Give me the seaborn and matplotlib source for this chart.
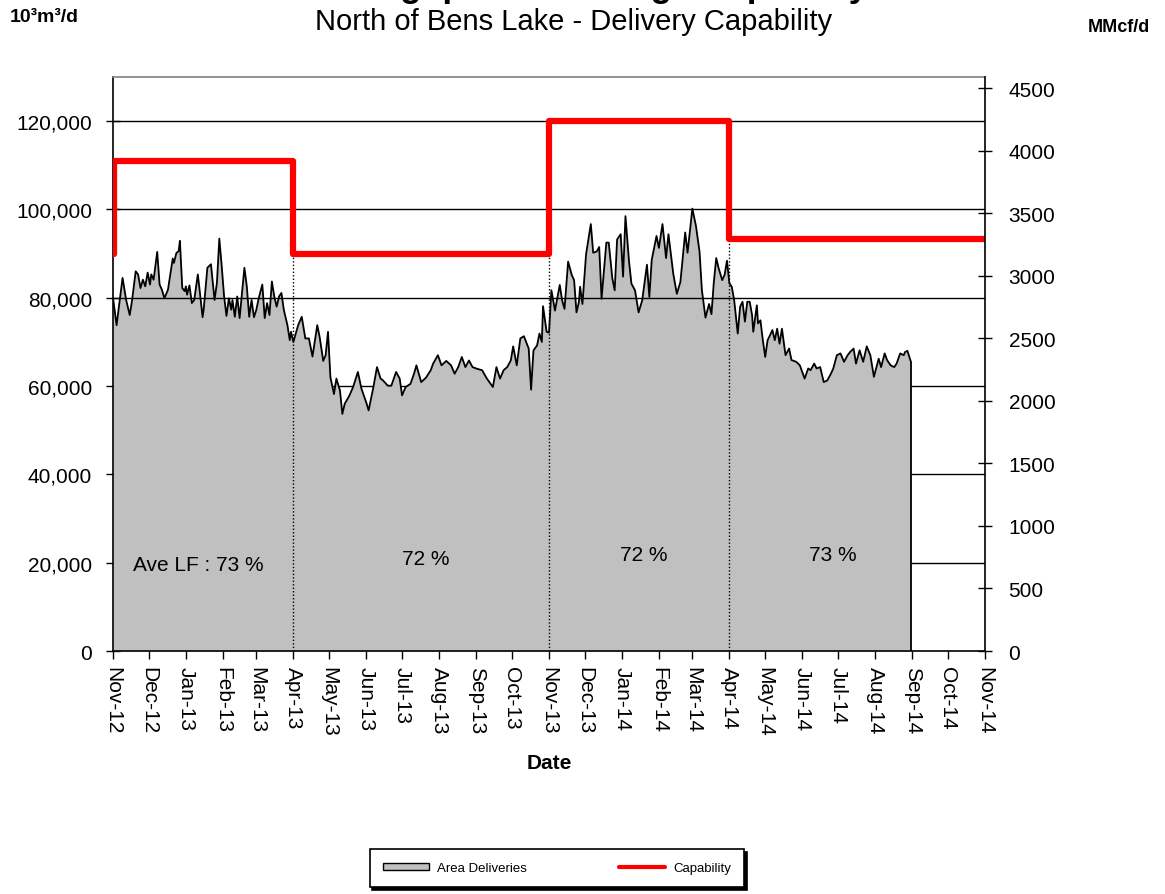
import numpy as np
import pandas as pd
import matplotlib
matplotlib.use("Agg")
import matplotlib.pyplot as plt
from matplotlib.patches import Patch
from matplotlib.lines import Line2D
from matplotlib.ticker import FuncFormatter
import seaborn as sns

start = pd.Timestamp("2012-11-01")
end = pd.Timestamp("2014-11-01")

# days since 1 Nov 2012 and area deliveries (10^3 m3/d, in thousands)
day_offsets = [
    0, 3, 8, 11, 14, 16, 19, 21, 23, 25, 27, 29, 31, 32, 34, 37, 39, 41, 43, 46,
    48, 50, 51, 53, 55, 56, 58, 60, 61, 62, 64, 66, 68, 71, 72, 75, 76, 79, 82, 85,
    87, 89, 91, 93, 95, 97, 99, 100, 102, 104, 106, 110, 112, 114, 116, 118, 120, 122, 125, 127,
    129, 131, 133, 135, 137, 139, 141, 143, 146, 148, 149, 151, 153, 155, 158, 161, 164, 167, 171, 173,
    176, 178, 180, 182, 185, 187, 190, 192, 194, 198, 201, 205, 208, 212, 214, 218, 221, 224, 226, 230,
    233, 237, 240, 242, 245, 249, 252, 254, 258, 262, 266, 268, 272, 275, 279, 283, 286, 289, 292, 295,
    298, 301, 305, 309, 313, 318, 321, 324, 327, 330, 333, 335, 338, 341, 344, 348, 350, 352, 355, 357,
    359, 360, 363, 365, 367, 370, 374, 376, 378, 381, 384, 386, 388, 390, 391, 393, 396, 400, 402, 405,
    407, 409, 413, 415, 418, 420, 422, 425, 427, 429, 432, 434, 437, 440, 443, 447, 449, 451, 455, 457,
    460, 463, 465, 469, 472, 475, 479, 481, 483, 485, 488, 491, 493, 496, 499, 501, 503, 505, 507, 510,
    512, 514, 516, 518, 520, 523, 525, 527, 529, 531, 533, 535, 536, 539, 540, 542, 544, 546, 548, 550,
    552, 554, 556, 558, 560, 563, 566, 568, 572, 575, 579, 582, 584, 587, 589, 592, 595, 598, 601, 603,
    606, 609, 612, 615, 617, 620, 622, 625, 628, 631, 634, 637, 641, 643, 646, 648, 651, 654, 656, 659,
    662, 663, 665, 668,
]
deliveries_k = [
    80.0, 73.8, 84.5, 79.5, 76.1, 79.5, 86.0, 85.3, 82.2, 84.1, 82.6, 85.7, 83.0, 85.3, 84.1, 90.4, 83.0, 81.8, 79.9, 81.8,
    85.3, 88.9, 87.9, 90.1, 90.6, 92.9, 82.2, 81.5, 82.6, 80.7, 82.8, 78.8, 79.5, 85.3, 83.0, 75.6, 77.6, 86.8, 87.6, 79.5,
    83.4, 93.4, 87.2, 80.3, 75.9, 79.9, 77.3, 79.5, 75.7, 80.3, 75.4, 86.8, 82.6, 75.7, 79.5, 75.6, 77.3, 79.9, 83.0, 75.4,
    78.8, 76.1, 83.7, 80.3, 78.0, 80.3, 81.1, 77.3, 73.8, 70.4, 72.3, 70.0, 71.9, 73.8, 75.7, 70.8, 70.8, 66.7, 73.8, 71.1,
    65.7, 67.0, 72.3, 62.0, 58.2, 61.7, 59.0, 53.7, 56.0, 57.9, 59.8, 63.2, 59.4, 56.3, 54.5, 59.8, 64.3, 61.7, 61.3, 60.1,
    60.1, 63.2, 61.7, 57.9, 59.8, 60.5, 62.8, 64.7, 60.9, 61.9, 63.6, 65.1, 67.0, 64.7, 65.7, 64.7, 62.8, 64.3, 66.6, 64.3,
    65.8, 64.3, 63.9, 63.6, 61.7, 59.8, 64.3, 61.7, 63.6, 64.3, 65.8, 69.0, 64.7, 70.8, 71.3, 68.5, 59.2, 68.1, 69.2, 71.9,
    70.0, 78.1, 72.3, 72.1, 81.7, 77.1, 82.9, 79.4, 77.5, 88.2, 85.2, 84.0, 76.7, 79.0, 82.5, 78.6, 89.8, 96.7, 90.2, 90.5,
    91.5, 79.8, 92.5, 92.5, 84.4, 81.7, 93.2, 94.4, 84.8, 98.5, 88.2, 83.2, 81.7, 76.7, 79.4, 87.5, 80.2, 88.6, 94.0, 91.3,
    96.7, 89.0, 94.4, 85.5, 80.9, 83.6, 94.8, 90.2, 95.2, 100.2, 96.3, 90.5, 81.7, 75.5, 78.6, 76.3, 83.6, 89.0, 86.7, 84.0,
    85.2, 88.4, 83.3, 82.5, 79.5, 71.9, 78.0, 79.1, 74.6, 79.1, 79.1, 76.1, 72.3, 78.3, 74.2, 74.9, 70.4, 66.6, 70.4, 71.5,
    72.7, 70.4, 73.0, 69.6, 73.0, 67.0, 68.5, 65.9, 65.5, 64.7, 61.7, 64.0, 63.6, 65.1, 64.0, 64.3, 60.9, 61.3, 62.8, 64.0,
    67.0, 67.4, 65.5, 67.0, 67.7, 68.5, 65.1, 68.1, 65.5, 69.0, 67.0, 62.1, 66.2, 64.3, 67.4, 65.9, 64.7, 64.3, 65.1, 67.4,
    67.0, 67.7, 68.0, 65.5,
]

# delivery capability (10^3 m3/d), step changes
cap_dates = ["2012-11-01", "2012-11-02", "2013-04-01", "2013-11-01", "2014-04-01", "2014-11-01"]
capability = [90000, 111000, 90000, 120000, 93300, 93300]

# average load factor per season
lf_labels = ["Ave LF : 73 %", "72 %", "72 %", "73 %"]
lf_dates = ["2013-01-11", "2013-07-21", "2014-01-19", "2014-06-27"]
lf_heights = [19700, 20900, 21800, 21800]

MMCF = 28.317  # 10^3 m3 per MMcf

sns.set_theme(style="white")
plt.rcParams["font.family"] = ["Liberation Sans", "DejaVu Sans"]
for k in ["text.color", "axes.labelcolor", "xtick.color", "ytick.color"]:
    plt.rcParams[k] = "black"

df = pd.DataFrame({
    "Date": start + pd.to_timedelta(day_offsets, unit="D"),
    "Deliveries": np.array(deliveries_k) * 1000,
})
cap = pd.DataFrame({"Date": pd.to_datetime(cap_dates), "Capability": capability})

fig = plt.figure(figsize=(11.65, 8.95), dpi=100)
ax = fig.add_axes([0.097, 0.2715, 0.7485, 0.6413])

# grid lines: lower ones hidden behind the area, upper ones on top
for v in range(20000, 120001, 20000):
    ax.axhline(v, color="black", lw=1, zorder=1.5 if v >= 80000 else 0.5)

ax.fill_between(df["Date"], df["Deliveries"], color="#C0C0C0", lw=0, zorder=1)
sns.lineplot(data=df, x="Date", y="Deliveries", color="black", lw=1.3, ax=ax, zorder=3)
ax.vlines(df["Date"].iloc[-1], 0, df["Deliveries"].iloc[-1], color="black", lw=1.3, zorder=3)

sns.lineplot(data=cap, x="Date", y="Capability", color="red", lw=4.5,
             drawstyle="steps-post", ax=ax, zorder=4)

# dotted season separators
sep_dates = cap["Date"].iloc[2:5]
sep_tops = [min(capability[i - 1], capability[i]) + 2000 for i in range(2, 5)]
ax.vlines(sep_dates, 0, sep_tops, colors="black", linestyles=(0, (1, 1.5)), lw=1, zorder=2)

for lab, d, h in zip(lf_labels, lf_dates, lf_heights):
    ax.text(pd.Timestamp(d), h, lab, fontsize=15, ha="center", va="center", zorder=5)

ax.set_xlim(start, end)
ax.set_ylim(0, 130000)
ax.set_yticks(range(0, 120001, 20000))
ax.yaxis.set_major_formatter(FuncFormatter(lambda v, p: f"{v:,.0f}"))
months = pd.date_range(start, end, freq="MS")
ax.set_xticks(months)
ax.set_xticklabels([m.strftime("%b-%y") for m in months], rotation=-90, ha="center", va="top")
ax.tick_params(axis="x", direction="out", length=6, width=1, labelsize=15, pad=5, bottom=True)
ax.tick_params(axis="y", direction="inout", length=10, width=1, labelsize=15, pad=10, left=True)
ax.set_xlabel("Date", fontsize=15, fontweight="bold", labelpad=12)
ax.set_ylabel("")
ax.grid(False)
for s in ["left", "bottom"]:
    ax.spines[s].set_color("black")
    ax.spines[s].set_linewidth(1.2)
ax.spines["top"].set_color("#808080")
ax.spines["top"].set_linewidth(1.2)
ax.spines["right"].set_visible(False)

ax2 = ax.twinx()
ax2.set_ylim(0, 130000 / MMCF)
ax2.set_yticks(range(0, 4501, 500))
ax2.tick_params(axis="y", direction="inout", length=10, width=1, labelsize=15, pad=12, right=True)
ax2.grid(False)
for s in ["left", "top", "bottom"]:
    ax2.spines[s].set_visible(False)
ax2.spines["right"].set_color("black")
ax2.spines["right"].set_linewidth(1.2)

# main title sits mostly above the top edge, as in the source image
fig.text(0.502, 1 + 3 / 895, "Throughput and Design Capability", fontsize=25,
         fontweight="bold", ha="center", va="baseline")
fig.text(0.492, 1 - 22 / 895, "North of Bens Lake - Delivery Capability", fontsize=21,
         ha="center", va="center")
fig.text(10 / 1165, 1 - 17 / 895, "10³m³/d", fontsize=14, fontweight="bold", ha="left", va="center")
fig.text(1150 / 1165, 1 - 27 / 895, "MMcf/d", fontsize=13, fontweight="bold", ha="right", va="center")

handles = [Patch(facecolor="#C0C0C0", edgecolor="black", lw=1),
           Line2D([], [], color="red", lw=3)]
leg = fig.legend(handles, ["Area Deliveries", "Capability"], loc="center",
                 bbox_to_anchor=(0.478, 0.029), ncol=2, fontsize=9.5, frameon=True,
                 fancybox=False, edgecolor="black", framealpha=1,
                 shadow={"color": "black", "alpha": 1}, handlelength=3.5,
                 handleheight=0.4, columnspacing=7, borderpad=1.0, handletextpad=0.6)
leg.get_frame().set_linewidth(1.2)

fig.savefig("out.png", dpi=100)
